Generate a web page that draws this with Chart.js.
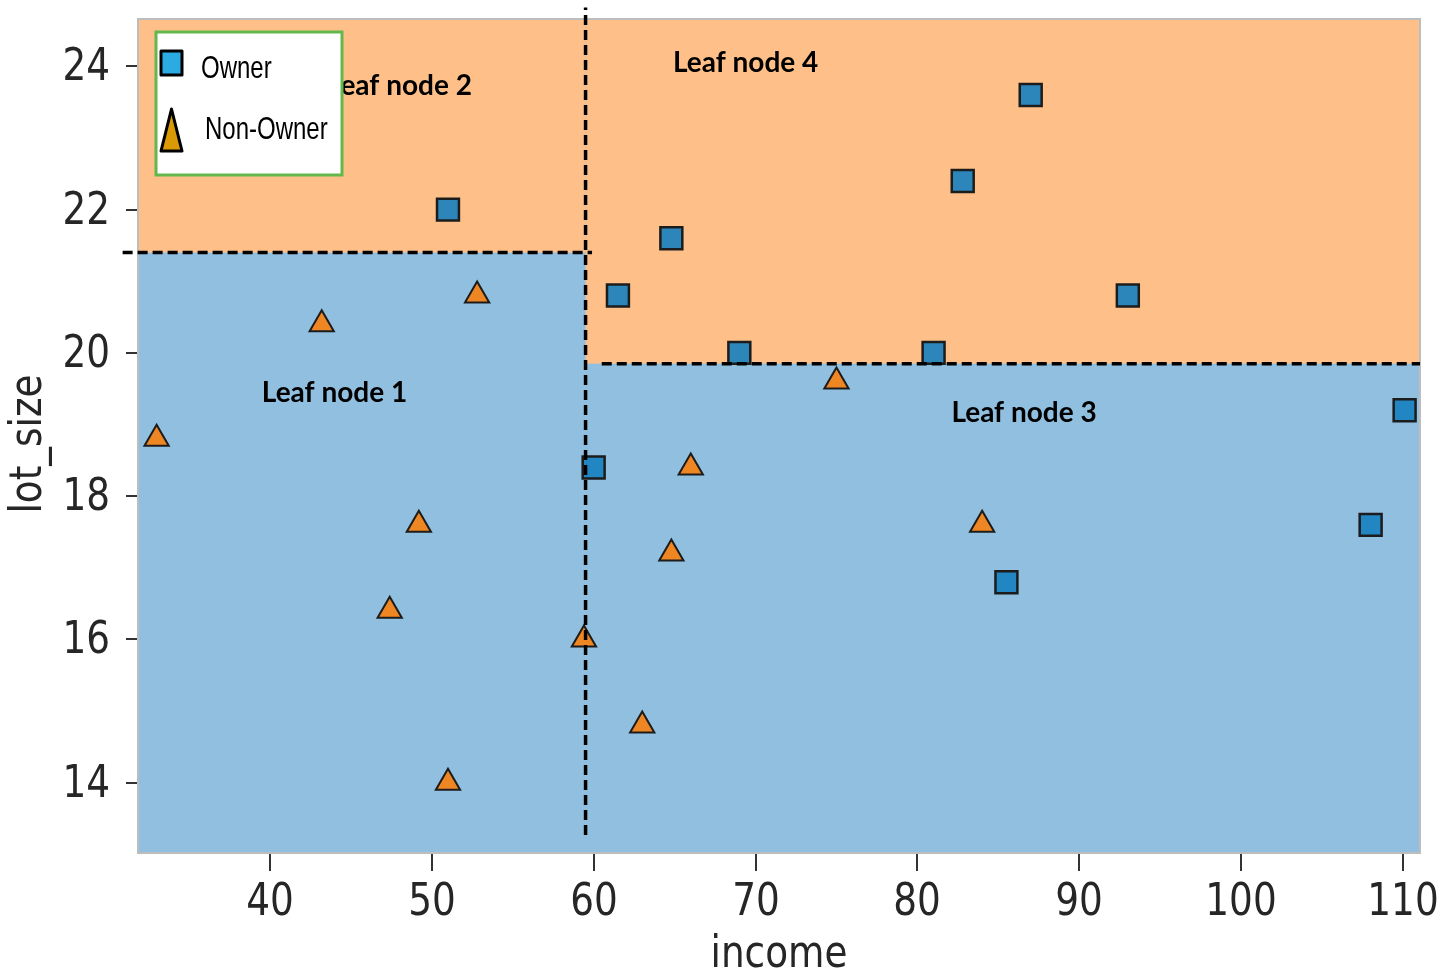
<!DOCTYPE html>
<html>
<head>
<meta charset="utf-8">
<script src="https://cdn.jsdelivr.net/npm/chart.js@4.4.1/dist/chart.umd.min.js"></script>
<style>
  html, body { margin: 0; padding: 0; background: #fff; }
  canvas { display: block; }
</style>
</head>
<body>
<canvas id="treeChart" width="1440" height="974"></canvas>
<script>
// riding mowers data
const ownerIncome = [60, 85.5, 64.8, 61.5, 87, 110.1, 108, 82.8, 69, 93, 51, 81];
const ownerLot = [18.4, 16.8, 21.6, 20.8, 23.6, 19.2, 17.6, 22.4, 20, 20.8, 22, 20];
const nonOwnerIncome = [75, 52.8, 64.8, 43.2, 84, 49.2, 59.4, 66, 47.4, 33, 51, 63];
const nonOwnerLot = [19.6, 20.8, 17.2, 20.4, 17.6, 17.6, 16, 18.4, 16.4, 18.8, 14, 14.8];

const xTicks = [40, 50, 60, 70, 80, 90, 100, 110];
const yTicks = [14, 16, 18, 20, 22, 24];

// tree splits
const incomeSplit = 59.5;
const lotSplitLeft = 21.4;
const lotSplitRight = 19.85;

const leafLabels = ["Leaf node 1", "Leaf node 2", "Leaf node 3", "Leaf node 4"];
const leafX = [39.5, 43.5, 82.1, 64.9];
const leafY = [19.31, 23.6, 19.03, 23.92];

const blueBg = "#90bfdf";
const orangeBg = "#fec088";

function squeezeText(ctx, str, x, y, sx, align) {
  ctx.save();
  ctx.translate(x, y);
  ctx.scale(sx, 1);
  ctx.textAlign = align;
  ctx.textBaseline = "alphabetic";
  ctx.fillText(str, 0, 0);
  ctx.restore();
}

const regionsPlugin = {
  id: "regions",
  beforeDatasetsDraw(chart) {
    const {ctx, chartArea: a, scales: {x, y}} = chart;
    const xs = x.getPixelForValue(incomeSplit);
    ctx.save();
    ctx.fillStyle = blueBg;
    ctx.fillRect(a.left, a.top, a.right - a.left, a.bottom - a.top);
    ctx.fillStyle = orangeBg;
    let yl = y.getPixelForValue(lotSplitLeft);
    ctx.fillRect(a.left, a.top, xs - a.left, yl - a.top);
    let yr = y.getPixelForValue(lotSplitRight);
    ctx.fillRect(xs, a.top, a.right - xs, yr - a.top);
    ctx.restore();
  }
};

const overlayPlugin = {
  id: "overlay",
  afterDatasetsDraw(chart) {
    const {ctx, chartArea: a, scales: {x, y}} = chart;
    ctx.save();

    // frame
    ctx.strokeStyle = "#bdbdbd";
    ctx.lineWidth = 2;
    ctx.strokeRect(a.left, a.top, a.right - a.left, a.bottom - a.top);

    // split lines
    ctx.strokeStyle = "#000";
    ctx.lineWidth = 3.5;
    ctx.setLineDash([10, 5]);
    const line = (x1, y1, x2, y2) => {
      ctx.beginPath();
      ctx.moveTo(x.getPixelForValue(x1), y.getPixelForValue(y1));
      ctx.lineTo(x.getPixelForValue(x2), y.getPixelForValue(y2));
      ctx.stroke();
    };
    line(incomeSplit, 13.27, incomeSplit, 24.82);
    line(30.9, lotSplitLeft, 59.9, lotSplitLeft);
    line(60.5, lotSplitRight, x.max, lotSplitRight);
    ctx.setLineDash([]);

    // leaf labels
    ctx.fillStyle = "#000";
    ctx.font = "bold 28px Lato, 'Open Sans', sans-serif";
    leafLabels.forEach((t, i) => {
      ctx.textAlign = "left";
      ctx.textBaseline = "alphabetic";
      ctx.fillText(t, x.getPixelForValue(leafX[i]), y.getPixelForValue(leafY[i]));
    });

    // ticks
    ctx.strokeStyle = "#333";
    ctx.lineWidth = 2;
    ctx.fillStyle = "#262626";
    ctx.font = "44px 'DejaVu Sans'";
    xTicks.forEach(v => {
      const px = Math.round(x.getPixelForValue(v));
      ctx.beginPath();
      ctx.moveTo(px, a.bottom + 1);
      ctx.lineTo(px, a.bottom + 18);
      ctx.stroke();
      squeezeText(ctx, String(v), px, a.bottom + 62, 0.85, "center");
    });
    yTicks.forEach(v => {
      const py = Math.round(y.getPixelForValue(v));
      ctx.beginPath();
      ctx.moveTo(a.left - 1, py);
      ctx.lineTo(a.left - 12, py);
      ctx.stroke();
      squeezeText(ctx, String(v), a.left - 28, py + 14, 0.85, "right");
    });

    // axis titles
    squeezeText(ctx, "income", (a.left + a.right) / 2, a.bottom + 114, 0.85, "center");
    ctx.save();
    ctx.translate(41, (a.top + a.bottom) / 2 + 8);
    ctx.rotate(-Math.PI / 2);
    squeezeText(ctx, "lot_size", 0, 0, 0.85, "center");
    ctx.restore();

    // legend box
    const lx = a.left + 18, ly = a.top + 13;
    ctx.fillStyle = "#fff";
    ctx.fillRect(lx, ly, 186, 143);
    ctx.strokeStyle = "#62b84a";
    ctx.lineWidth = 3;
    ctx.strokeRect(lx, ly, 186, 143);

    ctx.strokeStyle = "#000";
    ctx.lineWidth = 3;
    ctx.lineJoin = "round";
    ctx.fillStyle = "#2babe2";
    ctx.fillRect(lx + 5, ly + 19, 21, 24);
    ctx.strokeRect(lx + 5, ly + 19, 21, 24);

    ctx.fillStyle = "#da9a06";
    ctx.beginPath();
    ctx.moveTo(lx + 15.5, ly + 77);
    ctx.lineTo(lx + 26, ly + 119);
    ctx.lineTo(lx + 5, ly + 119);
    ctx.closePath();
    ctx.fill();
    ctx.stroke();

    ctx.fillStyle = "#000";
    ctx.font = "32px 'Liberation Sans', Arial, sans-serif";
    squeezeText(ctx, chart.data.datasets[0].label, lx + 45, ly + 46, 0.75, "left");
    squeezeText(ctx, chart.data.datasets[1].label, lx + 49, ly + 107, 0.75, "left");

    ctx.restore();
  }
};

const ctx = document.getElementById("treeChart").getContext("2d");
const treeChart = new Chart(ctx, {
  type: "scatter",
  data: {
    datasets: [
      {
        label: "Owner",
        data: ownerIncome.map((v, i) => ({x: v, y: ownerLot[i]})),
        pointStyle: "rect",
        pointRadius: 15.5,
        pointHoverRadius: 15.5,
        backgroundColor: "rgba(22,128,192,0.9)",
        borderColor: "#1c1c1c",
        borderWidth: 2.5
      },
      {
        label: "Non-Owner",
        data: nonOwnerIncome.map((v, i) => ({x: v, y: nonOwnerLot[i]})),
        pointStyle: "triangle",
        pointRadius: 14,
        pointHoverRadius: 14,
        backgroundColor: "rgba(250,128,15,0.9)",
        borderColor: "#1c1c1c",
        borderWidth: 2
      }
    ]
  },
  options: {
    responsive: false,
    animation: false,
    layout: {
      padding: {left: 138, top: 19, right: 20, bottom: 121}
    },
    scales: {
      x: {display: false, min: 31.85, max: 111.05},
      y: {display: false, min: 13.02, max: 24.66}
    },
    plugins: {
      legend: {display: false},
      tooltip: {enabled: false}
    }
  },
  plugins: [regionsPlugin, overlayPlugin]
});
</script>
</body>
</html>
